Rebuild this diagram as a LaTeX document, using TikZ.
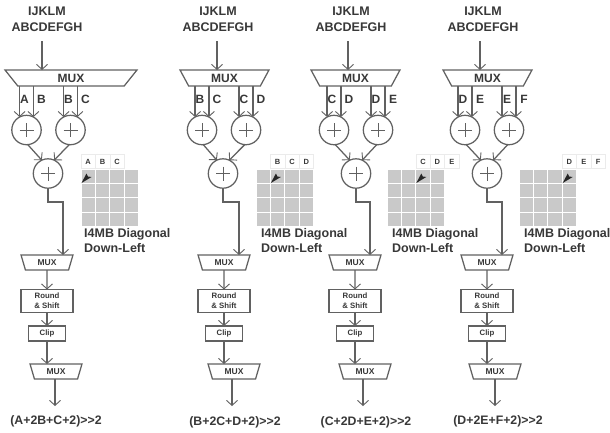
\documentclass[tikz,border=0pt]{standalone}
\usepackage{fontspec}
\setmainfont[Ligatures=NoCommon]{Liberation Sans}
\usetikzlibrary{arrows.meta,shapes.geometric,calc}
\definecolor{ln}{gray}{0.38}
\definecolor{tx}{gray}{0.22}
\definecolor{cellc}{gray}{0.79}
\tikzset{
  x=1pt,y=-1pt,
  lin/.style={draw=ln,line width=1.25pt},
  arr/.style={lin,-{Straight Barb[length=5pt,width=11pt,line width=0.9pt]}},
  muxbig/.style={trapezium,shape border rotate=180,trapezium stretches=true,lin,inner sep=0pt,outer sep=0pt,
     trapezium left angle=69,trapezium right angle=69,minimum height=16pt,text=tx,font=\bfseries\fontsize{12}{12}\selectfont},
  muxsmall/.style={trapezium,shape border rotate=180,trapezium stretches=true,lin,inner sep=0pt,outer sep=0pt,
     trapezium left angle=72,trapezium right angle=72,minimum width=52pt,minimum height=15pt,text=tx,font=\bfseries\fontsize{8.5}{8.5}\selectfont},
  addr/.style={circle,lin,inner sep=0pt,outer sep=0pt,minimum size=29.4pt,
     path picture={\draw[ln,line width=0.8pt]
       ($(path picture bounding box.center)+(-7,0)$) -- ($(path picture bounding box.center)+(7,0)$)
       ($(path picture bounding box.center)+(0,-7)$) -- ($(path picture bounding box.center)+(0,7)$);}},
  boxa/.style={rectangle,lin,inner sep=0pt,outer sep=0pt,text=tx,align=center,font=\bfseries\fontsize{7.8}{10}\selectfont},
  toptext/.style={text=tx,align=center,inner sep=0pt,font=\bfseries\fontsize{12.5}{16}\selectfont},
  inlabel/.style={text=tx,inner sep=0pt,font=\bfseries\fontsize{12}{12}\selectfont},
  hdrcell/.style={draw=black!8,fill=white,line width=0.5pt,minimum size=14.4pt,inner sep=0pt,text=tx,font=\bfseries\fontsize{7.5}{7.5}\selectfont},
  modetext/.style={text=tx,align=left,anchor=west,inner sep=0pt,font=\bfseries\fontsize{12.5}{15}\selectfont},
  formula/.style={text=tx,inner sep=0pt,font=\bfseries\fontsize{12.3}{12}\selectfont},
}
\begin{document}
\begin{tikzpicture}
\useasboundingbox (0,0) rectangle (610,432);
\fill[white] (0,0) rectangle (610,432);
\foreach \i/\mL/\mR/\inx/\tpx/\aA/\aB/\aC/\rt/\mm/\mb/\ox/\fx/\gx/\hd/\tmx/\La/\Lb/\Lc in {
 1/5/137/42/47/26.5/70.5/48/63/47/56/55/56/81/0/84/A/B/C,
 2/180/269/217/218/202/246/223/239/224/234/232/235/256/1/261/B/C/D,
 3/311/400/348/351/334/378/356/370/355/365/363/366/387/2/392/C/D/E,
 4/443/532/480/483/465/509/487/502/487/495/495/498/519/3/524/D/E/F}{
  % grid
  \foreach \r in {0,1,2,3}{\foreach \c in {0,1,2,3}{
     \fill[cellc] ({\gx+\c*14.4+0.5},{169+\r*14.4+0.5}) rectangle ++(13.4,13.4);
  }}
  \foreach \k/\L in {0/\La,1/\Lb,2/\Lc}{
     \node[hdrcell] (h\i\k) at ({\gx+(\hd+\k)*14.4+7.2},161.5) {\L};
  }
  \pgfmathsetmacro{\tipx}{\gx+\hd*14.4+0.5}
  \fill[black!85] (\tipx,183) -- ++(5,-9.5) -- ++(1.5,3) -- ++(3.5,0.5) -- cycle;
  % texts
  \node[toptext] (t\i) at (\tpx,19) {IJKLM\\ABCDEFGH};
  \coordinate (in\i) at (\inx,41);
  \pgfmathsetmacro{\mW}{\mR-\mL}
  \pgfmathsetmacro{\mC}{(\mR+\mL)/2}
  \node[muxbig,minimum width=\mW pt] (top\i) at (\mC,78) {MUX};
  \draw[arr] (in\i) -- (in\i |- top\i.north);
  \node[addr] (a\i) at (\aA,130) {};
  \node[addr] (b\i) at (\aB,130) {};
  \node[addr] (c\i) at (\aC,173.5) {};
  \draw[arr] (top\i.south -| a\i.118) -- (a\i.118);
  \draw[arr] (top\i.south -| a\i.62) -- (a\i.62);
  \draw[arr] (top\i.south -| b\i.118) -- (b\i.118);
  \draw[arr] (top\i.south -| b\i.62) -- (b\i.62);
  \node[inlabel] (la\i) at ({\aA-2},99.5) {\La};
  \node[inlabel] (lb\i) at ({\aA+15},99.5) {\Lb};
  \node[inlabel] (lc\i) at ({\aB-2},99.5) {\Lb};
  \node[inlabel] (ld\i) at ({\aB+15},99.5) {\Lc};
  \draw[arr] (a\i.-85) -- (c\i.115);
  \draw[arr] (b\i.-95) -- (c\i.65);
  \node[modetext] (m\i) at (\tmx,240.5) {I4MB Diagonal\\Down-Left};
  \node[muxsmall] (mx\i) at (\mm,262.5) {MUX};
  \coordinate (r\i) at (\rt,202);
  \draw[arr] (c\i.south) |- (r\i) -- (mx\i.north -| r\i);
  \node[boxa,minimum width=52pt,minimum height=23pt] (rs\i) at (\mm,301) {Round\\\& Shift};
  \node[boxa,minimum width=37pt,minimum height=15pt] (cl\i) at (\mm,333.5) {Clip};
  \node[muxsmall] (my\i) at (\mb,371.5) {MUX};
  \draw[arr] (mx\i.south) -- (rs\i.north);
  \draw[arr] (rs\i.south) -- (cl\i.north);
  \draw[arr] (cl\i.south) -- (my\i.north -| cl\i.south);
  \coordinate (o\i) at (\ox,406);
  \draw[arr] (my\i.south -| o\i) -- (o\i);
}
\node[formula] (f1) at (56,421) {(A+2B+C+2){>}{>}2};
\node[formula] (f2) at (235,422) {(B+2C+D+2){>}{>}2};
\node[formula] (f3) at (366,422) {(C+2D+E+2){>}{>}2};
\node[formula] (f4) at (498,421) {(D+2E+F+2){>}{>}2};
\end{tikzpicture}
\end{document}
